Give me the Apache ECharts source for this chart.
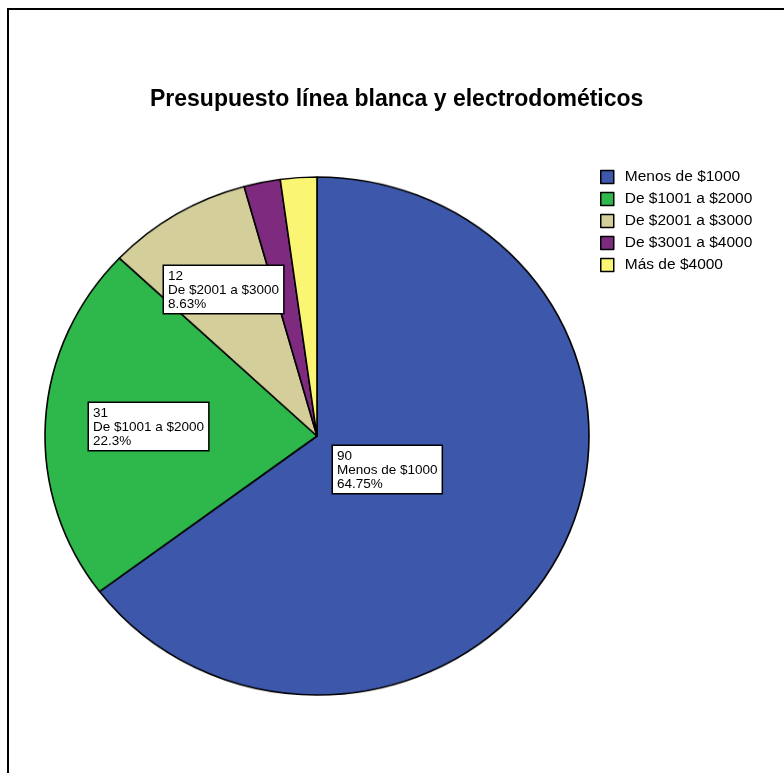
<!DOCTYPE html>
<html>
<head>
<meta charset="utf-8">
<script src="https://cdn.jsdelivr.net/npm/echarts@6/dist/echarts.min.js"></script>
<style>
  html, body { margin: 0; padding: 0; background: #fff; }
  #wrap { position: relative; width: 784px; height: 773px; overflow: hidden; }
  #frame { position: absolute; left: 7px; top: 8px; width: 900px; height: 900px; border: 2px solid #000; box-sizing: border-box; }
  #pie { position: absolute; left: 0; top: 0; width: 784px; height: 773px; transform-origin: 317px 436px; }
  #overlay { position: absolute; left: 0; top: 0; width: 784px; height: 773px; }
</style>
</head>
<body>
<div id="wrap">
  <div id="frame"></div>
  <div id="pie"></div>
  <div id="overlay"></div>
</div>
<script>
// Budget ranges and respondent counts
const categories = ['Menos de $1000', 'De $1001 a $2000', 'De $2001 a $3000', 'De $3001 a $4000', 'Más de $4000'];
const counts = [90, 31, 12, 3, 3];
const showLabel = [true, true, true, false, false];
const colors = ['#3D58AA', '#2EB84B', '#D3CE9A', '#7E2A7E', '#FAF673'];
const titleText = 'Presupuesto línea blanca y electrodométicos';

const FONT = '"Liberation Sans", Arial, sans-serif';
const cx = 317, cy = 436, rx = 272, ry = 259;

// The pie is drawn as a circle and squeezed vertically into an ellipse
document.getElementById('pie').style.transform = 'scaleY(' + (ry / rx) + ')';

const pieData = categories.map((c, i) => ({ name: c, value: counts[i] }));

const pieChart = echarts.init(document.getElementById('pie'), null, { renderer: 'canvas' });
pieChart.setOption({
  animation: false,
  color: colors,
  series: [{
    type: 'pie',
    center: [cx, cy],
    radius: [0, rx],
    startAngle: 90,
    clockwise: true,
    label: { show: false },
    labelLine: { show: false },
    itemStyle: { borderColor: '#000', borderWidth: 1.6 },
    emphasis: { disabled: true },
    data: pieData
  }]
});

// Title, legend and the boxed value labels (not squeezed)
const labelOffsets = [[16, 10], [-228, -33], [-153, -170]];
const overlay = echarts.init(document.getElementById('overlay'), null, { renderer: 'canvas' });
overlay.setOption({
  animation: false,
  title: {
    text: titleText,
    left: 145,
    top: 83,
    textStyle: { fontFamily: FONT, fontSize: 23, fontWeight: 'bold', color: '#000' }
  },
  legend: {
    orient: 'vertical',
    left: 595,
    top: 164,
    itemWidth: 13,
    itemHeight: 13,
    itemGap: 6,
    icon: 'rect',
    selectedMode: false,
    textStyle: { fontFamily: FONT, fontSize: 15.5, color: '#000', padding: [0, 0, 0, 6] },
    data: categories.map((c, i) => ({
      name: c,
      itemStyle: { color: colors[i], borderColor: '#000', borderWidth: 1.5, opacity: 1 }
    }))
  },
  series: [{
    type: 'pie',
    center: [cx, cy],
    radius: [0, rx],
    startAngle: 90,
    clockwise: true,
    silent: true,
    itemStyle: { color: 'rgba(0,0,0,0)', borderWidth: 0 },
    labelLine: { show: false },
    label: {
      position: 'inside',
      formatter: '{c}\n{b}\n{d}%',
      fontFamily: FONT,
      fontSize: 13.5,
      lineHeight: 14,
      color: '#000',
      align: 'left',
      backgroundColor: '#fff',
      borderColor: '#000',
      borderWidth: 1.5,
      padding: [3, 4, 2, 4]
    },
    labelLayout: function (params) {
      const off = labelOffsets[params.dataIndex];
      if (!off) return {};
      return { x: cx + off[0], y: cy + off[1], align: 'left', verticalAlign: 'top' };
    },
    data: pieData.map((d, i) => ({
      name: d.name,
      value: d.value,
      label: { show: showLabel[i] }
    }))
  }]
});
</script>
</body>
</html>
